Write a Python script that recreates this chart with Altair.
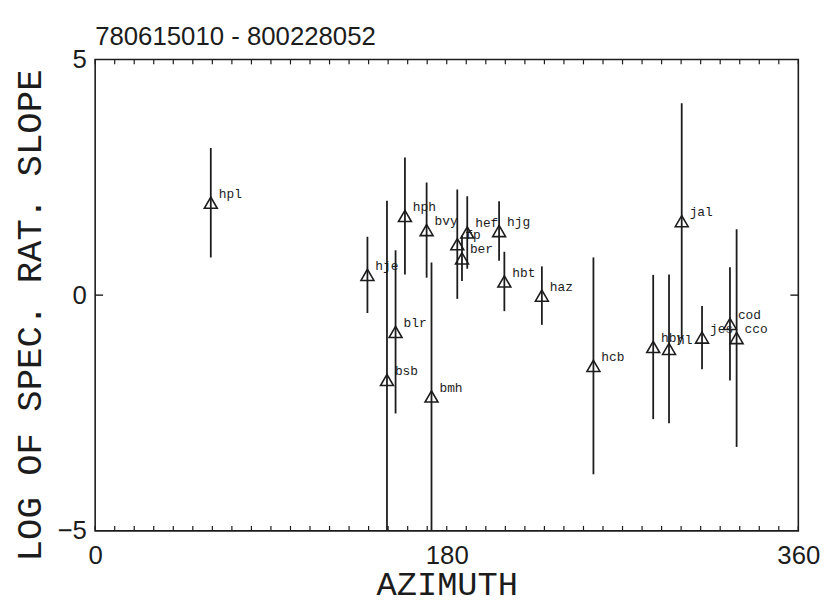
import altair as alt
import pandas as pd

# ---- data ----
stations = ["hpl", "hje", "hph", "bvy", "bsb", "blr", "bmh", "fp", "hef", "ber",
            "hjg", "hbt", "haz", "hcb", "hby", "hl", "jal", "jes", "cod", "cco"]
azimuth = [59.2, 139.4, 158.6, 169.7, 149.4, 153.8, 172.2, 185.4, 190.5, 187.8,
           206.8, 209.5, 228.7, 255.1, 285.7, 293.8, 300.3, 310.7, 325.0, 328.4]
slope = [1.96, 0.43, 1.68, 1.38, -1.80, -0.78, -2.15, 1.08, 1.33, 0.78,
         1.36, 0.29, -0.01, -1.50, -1.10, -1.14, 1.57, -0.90, -0.61, -0.91]
error = [1.16, 0.81, 1.24, 1.01, 3.80, 1.73, 2.84, 1.16, 0.77, 0.48,
         0.63, 0.63, 0.62, 2.30, 1.53, 1.58, 2.50, 0.67, 1.20, 2.31]

x_minor_ticks = list(range(0, 361, 10))
x_label_values = [0, 180, 360]
y_label_values = [-5, 0, 5]
y_tick_values = [0]

df = pd.DataFrame({"station": stations, "azimuth": azimuth, "slope": slope, "err": error})
df["lo"] = df["slope"] - df["err"]
df["hi"] = df["slope"] + df["err"]
ticks_df = pd.DataFrame({"azimuth": x_minor_ticks})
ytick_df = pd.DataFrame({"slope": y_tick_values})

W, H = 710, 476
ink = "#1c1c1c"
num_font = "Liberation Sans"
mono = "Liberation Mono"

x_scale = alt.Scale(domain=[0, 360], nice=False, zero=False)
y_scale = alt.Scale(domain=[-5, 5], nice=False, zero=False)

x_axis = alt.Axis(values=x_label_values, ticks=False, domain=False, grid=False,
                  title="AZIMUTH", labelFont=num_font, labelFontSize=26,
                  labelColor=ink, labelPadding=12, labelFlush=False,
                  titleFont=mono, titleFontSize=34, titleFontWeight="normal",
                  titleColor=ink, titleX=W / 2, titleY=54,
                  titleAlign="center", titleBaseline="middle")
y_axis = alt.Axis(values=y_label_values, ticks=False, domain=False, grid=False,
                  title="LOG OF SPEC. RAT. SLOPE", labelFont=num_font,
                  labelFontSize=26, labelColor=ink, labelPadding=9, labelFlush=False,
                  titleFont=mono, titleFontSize=36, titleFontWeight="normal",
                  titleColor=ink, titleAngle=270, titleX=-66, titleY=258,
                  titleAlign="center", titleBaseline="middle")

X = alt.X("azimuth:Q", scale=x_scale, axis=x_axis)
Y = alt.Y("slope:Q", scale=y_scale, axis=y_axis)

points = alt.Chart(df).mark_point(shape="triangle-up", size=170, filled=False,
                                  strokeWidth=1.6, color=ink, opacity=1).encode(x=X, y=Y)

bars = alt.Chart(df).mark_rule(strokeWidth=1.8, color=ink, clip=True).encode(
    x=X, y=alt.Y("lo:Q", scale=y_scale, axis=y_axis), y2="hi:Q")

labels = alt.Chart(df).mark_text(align="left", baseline="middle", dx=8, dy=-9,
                                 font=mono, fontSize=13, color=ink).encode(
    x=X, y=Y, text="station:N")

top_ticks = alt.Chart(ticks_df).mark_rule(strokeWidth=1.2, color=ink).encode(
    x=X, y=alt.value(0), y2=alt.value(5))
bottom_ticks = alt.Chart(ticks_df).mark_rule(strokeWidth=1.2, color=ink).encode(
    x=X, y=alt.value(H - 5), y2=alt.value(H))
left_tick = alt.Chart(ytick_df).mark_rule(strokeWidth=1.4, color=ink).encode(
    y=Y, x=alt.value(0), x2=alt.value(8))
right_tick = alt.Chart(ytick_df).mark_rule(strokeWidth=1.4, color=ink).encode(
    y=Y, x=alt.value(W - 8), x2=alt.value(W))

chart = alt.layer(points, bars, labels, top_ticks, bottom_ticks, left_tick, right_tick).properties(
    width=W, height=H,
    title=alt.TitleParams("780615010 - 800228052", anchor="start", font=num_font,
                          fontSize=26, fontWeight="normal", color=ink, offset=10,
                          dy=13, frame="group"),
    padding={"left": 88, "top": 49, "right": 34, "bottom": 76},
    autosize=alt.AutoSizeParams(type="none"),
    background="white",
).configure_view(stroke=ink, strokeWidth=1.6)

chart.save("out.html", embed_options={"renderer": "svg", "actions": False})
